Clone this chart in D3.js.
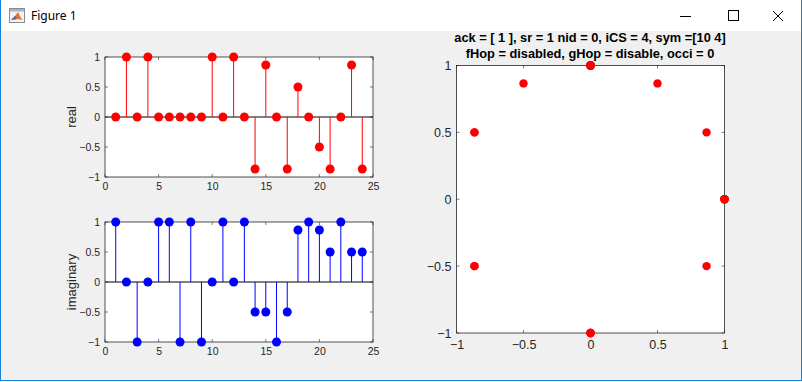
<!DOCTYPE html>
<html><head><meta charset="utf-8">
<script src="https://cdn.jsdelivr.net/npm/d3@7/dist/d3.min.js"></script>
<style>
html,body{margin:0;padding:0;background:#f0f0f0;overflow:hidden}
svg{display:block}
text{font-family:"Liberation Sans",Arial,Helvetica,sans-serif}
</style></head>
<body>
<script>
// ---- data ----
const sampleIndex = [1,2,3,4,5,6,7,8,9,10,11,12,13,14,15,16,17,18,19,20,21,22,23,24];
const realPart = [0,1,0,1,0,0,0,0,0,1,0,1,0,-0.866,0.866,0,-0.866,0.5,0,-0.5,-0.866,0,0.866,-0.866];
const imagPart = [1,0,-1,0,1,1,-1,1,-1,0,1,0,1,-0.5,-0.5,-1,-0.5,0.866,1,0.866,0.5,1,0.5,0.5];
const stemXTicks = [0,5,10,15,20,25];
const stemYTicks = [-1,-0.5,0,0.5,1];
const constTicks = [-1,-0.5,0,0.5,1];
const titleLines = ["ack = [ 1 ], sr = 1 nid = 0, iCS = 4, sym =[10 4]",
                    "fHop = disabled, gHop = disable, occi = 0"];
const windowTitle = "Figure 1";

const W = 802, H = 382;
const svg = d3.select("body").append("svg").attr("width", W).attr("height", H);

// ---- window chrome ----
svg.append("rect").attr("x",0).attr("y",0).attr("width",W).attr("height",H).attr("fill","#f0f0f0");
svg.append("rect").attr("x",0).attr("y",0).attr("width",W).attr("height",31).attr("fill","#ffffff");
svg.append("rect").attr("x",0.5).attr("y",-1).attr("width",W-1).attr("height",H-0.5)
  .attr("fill","none").attr("stroke","#1883d7").attr("stroke-width",1);
const ic = svg.append("g").attr("transform","translate(9,8)");
ic.append("rect").attr("x",0.5).attr("y",0.5).attr("width",15).attr("height",14).attr("fill","#f4f4f4").attr("stroke","#8a8a8a");
ic.append("rect").attr("x",1).attr("y",1).attr("width",14).attr("height",2.5).attr("fill","#9ab6d8");
ic.append("path").attr("d","M2,12 L6,8 L9,4 L12,10 L14,12 L9,11 Z").attr("fill","#e5732b");
ic.append("path").attr("d","M2,12 L6,8 L8,11 Z").attr("fill","#3d6fb4");
svg.append("text").attr("x",31).attr("y",20).attr("font-size",12).attr("fill","#000")
  .style("font-family","'Noto Sans','Open Sans',sans-serif").text(windowTitle);
svg.append("line").attr("x1",680).attr("x2",691).attr("y1",16.5).attr("y2",16.5).attr("stroke","#000");
svg.append("rect").attr("x",728.5).attr("y",10.5).attr("width",10).attr("height",10).attr("fill","none").attr("stroke","#000");
svg.append("line").attr("x1",773).attr("y1",11).attr("x2",783).attr("y2",21).attr("stroke","#000");
svg.append("line").attr("x1",783).attr("y1",11).attr("x2",773).attr("y2",21).attr("stroke","#000");

// ---- axes helper ----
function makeAxes(opt){
  const g = svg.append("g");
  const x = d3.scaleLinear().domain(opt.xd).range([opt.x0, opt.x1]);
  const y = d3.scaleLinear().domain(opt.yd).range([opt.y1, opt.y0]);
  g.append("rect").attr("x",opt.x0).attr("y",opt.y0).attr("width",opt.x1-opt.x0).attr("height",opt.y1-opt.y0)
    .attr("fill","#fff");
  const fs = opt.fs;
  const ax = g.append("g").attr("transform",`translate(0,${opt.y1})`)
    .call(d3.axisBottom(x).tickValues(opt.xt).tickSize(0).tickPadding(opt.xpad).tickFormat(d3.format("")));
  const ay = g.append("g").attr("transform",`translate(${opt.x0},0)`)
    .call(d3.axisLeft(y).tickValues(opt.yt).tickSize(0).tickPadding(opt.ypad).tickFormat(d3.format("")));
  [ax,ay].forEach(a=>{
    a.select(".domain").remove();
    a.selectAll("text").attr("font-size",fs).attr("fill","#262626").style("font-family","'Liberation Sans',Arial,sans-serif");
  });
  const tl = 3;
  const tk = g.append("g").attr("stroke","#262626").attr("stroke-width",0.6);
  opt.xt.forEach(t=>{
    tk.append("line").attr("x1",x(t)).attr("x2",x(t)).attr("y1",opt.y1).attr("y2",opt.y1-tl);
    tk.append("line").attr("x1",x(t)).attr("x2",x(t)).attr("y1",opt.y0).attr("y2",opt.y0+tl);
  });
  opt.yt.forEach(t=>{
    tk.append("line").attr("y1",y(t)).attr("y2",y(t)).attr("x1",opt.x0).attr("x2",opt.x0+tl);
    tk.append("line").attr("y1",y(t)).attr("y2",y(t)).attr("x1",opt.x1).attr("x2",opt.x1-tl);
  });
  return {g,x,y,opt};
}
function drawBox(a){
  const o=a.opt;
  a.g.append("rect").attr("x",o.x0).attr("y",o.y0).attr("width",o.x1-o.x0).attr("height",o.y1-o.y0)
    .attr("fill","none").attr("stroke","#262626").attr("stroke-width",0.8);
}

function stemPlot(opt, vals, color, label){
  const a = makeAxes(opt);
  const data = sampleIndex.map((n,i)=>({n, v: vals[i]}));
  a.g.append("line").attr("x1",opt.x0).attr("x2",opt.x1).attr("y1",a.y(0)).attr("y2",a.y(0))
    .attr("stroke","#000").attr("stroke-width",1);
  a.g.selectAll(".stem").data(data).join("line").attr("class","stem")
    .attr("x1",d=>a.x(d.n)).attr("x2",d=>a.x(d.n)).attr("y1",a.y(0)).attr("y2",d=>a.y(d.v))
    .attr("stroke",color).attr("stroke-width",1);
  drawBox(a);
  a.g.selectAll(".mk").data(data).join("circle").attr("class","mk")
    .attr("cx",d=>a.x(d.n)).attr("cy",d=>a.y(d.v)).attr("r",4.5).attr("fill",color);
  a.g.append("text").attr("transform",`translate(${opt.x0-29},${(opt.y0+opt.y1)/2}) rotate(-90)`)
    .attr("text-anchor","middle").attr("font-size",13).attr("fill","#262626").text(label);
  return a;
}

stemPlot({x0:105,x1:373,y0:57,y1:177,xd:[0,25],yd:[-1,1],xt:stemXTicks,yt:stemYTicks,fs:10.5,xpad:6,ypad:5},
  realPart,"#ff0000","real");
stemPlot({x0:105,x1:373,y0:222,y1:342,xd:[0,25],yd:[-1,1],xt:stemXTicks,yt:stemYTicks,fs:10.5,xpad:6,ypad:5},
  imagPart,"#0000ff","imaginary");

const c = makeAxes({x0:456.5,x1:724.5,y0:65.5,y1:333,xd:[-1,1],yd:[-1,1],xt:constTicks,yt:constTicks,fs:12.5,xpad:7,ypad:5});
drawBox(c);
const pts = sampleIndex.map((n,i)=>({re: realPart[i], im: imagPart[i]}));
c.g.selectAll(".pt").data(pts).join("circle").attr("class","pt")
  .attr("cx",d=>c.x(d.re)).attr("cy",d=>c.y(d.im)).attr("r",4.2).attr("fill","#ff0000");
titleLines.forEach((t,i)=>{
  svg.append("text").attr("x",590).attr("y",42+i*16).attr("text-anchor","middle")
    .attr("font-size",12.8).attr("font-weight","bold").attr("fill","#000").text(t);
});
</script>
</body></html>
